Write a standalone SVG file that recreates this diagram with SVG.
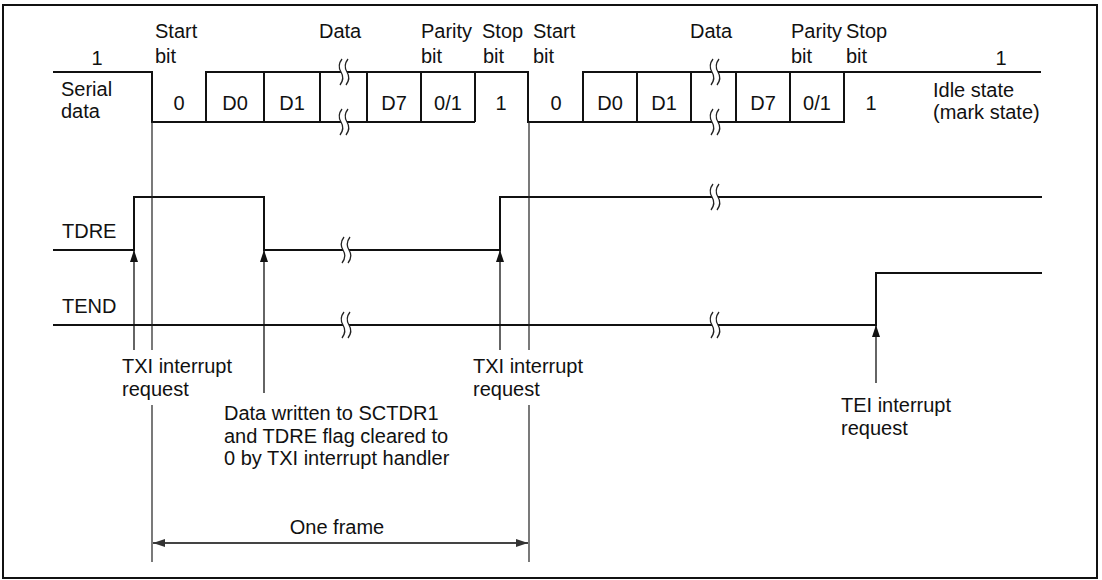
<svg xmlns="http://www.w3.org/2000/svg" width="1102" height="580" viewBox="0 0 1102 580">
<style>
.t{font-family:"Liberation Sans",Arial,sans-serif;font-size:20px;fill:#111}
.m{text-anchor:middle}
.w{fill:none;stroke:#111;stroke-width:2}
.thin{fill:none;stroke:#222;stroke-width:1.2}
.brk{fill:none;stroke:#222;stroke-width:1.3}
.arr{fill:none;stroke:#111;stroke-width:1.3}
</style>
<defs>
<path id="brk" d="M1,-13 Q-4,-6.5 0,0 Q4,6.5 -1,13 M7,-13 Q2,-6.5 6,0 Q10,6.5 5,13"/>
<marker id="ah" viewBox="0 0 12 8" refX="12" refY="4" markerWidth="12" markerHeight="8" markerUnits="userSpaceOnUse" orient="auto"><path d="M0,0 L12,4 L0,8 Z" fill="#111"/></marker>
<marker id="ah2" viewBox="0 0 12 8" refX="12" refY="4" markerWidth="12" markerHeight="8" markerUnits="userSpaceOnUse" orient="auto-start-reverse"><path d="M0,0 L12,4 L0,8 Z" fill="#333"/></marker>
</defs>
<rect x="3" y="5" width="1094" height="573" fill="#fff" stroke="#111" stroke-width="2"/>

<g id="serial">
<path class="w" d="M53,72 H152 V122 H341 M347,122 H475 M206,122 V72 H341 M347,72 H528 V122 H712 M718,122 H844 V72 M583,122 V72 H712 M718,72 H1041 M264,72 V122 M320,72 V122 M367,72 V122 M421,72 V122 M475,72 V122 M637,72 V122 M691,72 V122 M736,72 V122 M790,72 V122"/>
<g class="brk">
<use href="#brk" x="341" y="72"/><use href="#brk" x="341" y="122"/>
<use href="#brk" x="712" y="72"/><use href="#brk" x="712" y="122"/>
</g>
<text class="t m" x="97" y="65">1</text>
<text class="t" x="61" y="96">Serial</text>
<text class="t" x="61" y="118">data</text>
<text class="t" x="155" y="38">Start</text><text class="t" x="155" y="63">bit</text>
<text class="t" x="319" y="38">Data</text>
<text class="t" x="421" y="38">Parity</text><text class="t" x="421" y="63">bit</text>
<text class="t" x="482" y="38">Stop</text><text class="t" x="483" y="63">bit</text>
<text class="t" x="533" y="38">Start</text><text class="t" x="533" y="63">bit</text>
<text class="t" x="690" y="38">Data</text>
<text class="t" x="791" y="38">Parity</text><text class="t" x="791" y="63">bit</text>
<text class="t" x="846" y="38">Stop</text><text class="t" x="846" y="63">bit</text>
<text class="t m" x="1001" y="65">1</text>
<text class="t m" x="179" y="110">0</text>
<text class="t m" x="235" y="110">D0</text>
<text class="t m" x="292" y="110">D1</text>
<text class="t m" x="394" y="110">D7</text>
<text class="t m" x="448" y="110">0/1</text>
<text class="t m" x="501" y="110">1</text>
<text class="t m" x="556" y="110">0</text>
<text class="t m" x="610" y="110">D0</text>
<text class="t m" x="664" y="110">D1</text>
<text class="t m" x="763" y="110">D7</text>
<text class="t m" x="817" y="110">0/1</text>
<text class="t m" x="871" y="110">1</text>
<text class="t" x="933" y="97">Idle state</text>
<text class="t" x="933" y="119">(mark state)</text>
</g>

<g id="tdre">
<path class="w" d="M53,250 H134 V197 H264 V250 H343 M349,250 H500 V197 H712 M718,197 H1042"/>
<g class="brk"><use href="#brk" x="343" y="250"/><use href="#brk" x="712" y="197"/></g>
<text class="t" x="62" y="238">TDRE</text>
</g>

<g id="tend">
<path class="w" d="M53,325 H343 M349,325 H712 M718,325 H876 V273 H1042"/>
<g class="brk"><use href="#brk" x="343" y="325"/><use href="#brk" x="712" y="325"/></g>
<text class="t" x="62" y="313">TEND</text>
</g>

<g id="connectors">
<path class="thin" d="M152,122 V350 M152,405 V562 M529,122 V350 M529,405 V562"/>
<line class="arr" x1="134" y1="350" x2="134" y2="250" marker-end="url(#ah)"/>
<line class="arr" x1="264" y1="393" x2="264" y2="250" marker-end="url(#ah)"/>
<line class="arr" x1="500" y1="350" x2="500" y2="250" marker-end="url(#ah)"/>
<line class="arr" x1="876" y1="383" x2="876" y2="325" marker-end="url(#ah)"/>
<line x1="153" y1="543" x2="528" y2="543" stroke="#444" stroke-width="2" marker-start="url(#ah2)" marker-end="url(#ah2)"/>
</g>

<g id="labels">
<text class="t" x="122" y="373">TXI interrupt</text>
<text class="t" x="122" y="396">request</text>
<text class="t" x="473" y="373">TXI interrupt</text>
<text class="t" x="473" y="396">request</text>
<text class="t" x="224" y="420">Data written to SCTDR1</text>
<text class="t" x="224" y="443">and TDRE flag cleared to</text>
<text class="t" x="224" y="465">0 by TXI interrupt handler</text>
<text class="t m" x="337" y="534">One frame</text>
<text class="t" x="841" y="412">TEI interrupt</text>
<text class="t" x="841" y="435">request</text>
</g>
</svg>
